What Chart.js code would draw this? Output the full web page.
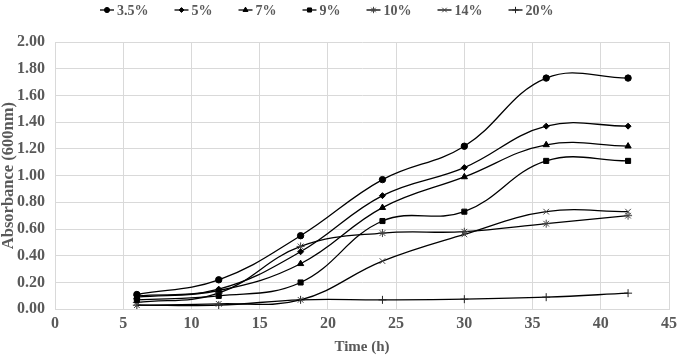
<!DOCTYPE html>
<html>
<head>
<meta charset="utf-8">
<script src="https://cdn.jsdelivr.net/npm/chart.js@4"></script>
<style>
html,body{margin:0;padding:0;background:#fff;}
#wrap{width:685px;height:356px;position:relative;}
</style>
</head>
<body>
<div id="wrap"><canvas id="c" width="685" height="356"></canvas></div>
<script>
// Data
const timeH = [6, 12, 18, 24, 30, 36, 42];
const seriesNames = ['3.5%', '5%', '7%', '9%', '10%', '14%', '20%'];
const s3_5 = [0.11, 0.22, 0.55, 0.97, 1.22, 1.73, 1.73];
const s5   = [0.10, 0.15, 0.43, 0.85, 1.06, 1.37, 1.37];
const s7   = [0.09, 0.14, 0.34, 0.76, 0.99, 1.23, 1.22];
const s9   = [0.07, 0.10, 0.20, 0.66, 0.73, 1.11, 1.11];
const s10  = [0.05, 0.12, 0.47, 0.57, 0.58, 0.64, 0.70];
const s14  = [0.03, 0.04, 0.07, 0.36, 0.56, 0.73, 0.73];
const s20  = [0.03, 0.03, 0.07, 0.07, 0.075, 0.09, 0.12];
const xTicks = [0, 5, 10, 15, 20, 25, 30, 35, 40, 45];
const yTicks = [0, 0.2, 0.4, 0.6, 0.8, 1.0, 1.2, 1.4, 1.6, 1.8, 2.0];

const allSeries = [s3_5, s5, s7, s9, s10, s14, s20];
const styles = ['circle', 'rectRot', 'triangle', 'rect', 'star', 'crossRot', 'cross'];
const radii = [3.2, 3, 3.6, 3.6, 4, 4, 4];
const mColors = ['#000', '#000', '#000', '#000', '#444', '#444', '#222'];

const FONT = "'Liberation Serif', 'Times New Roman', serif";
const TXT = '#595959';

function marker(ctx, style, r, x, y, color) {
  if (Chart.helpers && Chart.helpers.drawPoint) {
    ctx.fillStyle = color; ctx.strokeStyle = color; ctx.lineWidth = 1;
    Chart.helpers.drawPoint(ctx, {pointStyle: style, radius: r, borderWidth: 1, rotation: 0}, x, y);
  }
}

const datasets = allSeries.map((arr, i) => ({
  label: seriesNames[i],
  data: timeH.map((t, k) => ({x: t, y: arr[k]})),
  borderColor: '#000',
  backgroundColor: mColors[i],
  pointBackgroundColor: mColors[i],
  pointBorderColor: mColors[i],
  pointStyle: styles[i],
  pointRadius: radii[i],
  pointBorderWidth: 1,
  borderWidth: 1.3,
  tension: 0.4,
  fill: false
}));

// Legend drawn in a row across the top
const topLegend = {
  id: 'topLegend',
  afterDraw(chart, args, opts) {
    const ctx = chart.ctx;
    ctx.save();
    ctx.font = 'bold 14px ' + FONT;
    ctx.textBaseline = 'middle';
    let x = opts.startX;
    const y = opts.y;
    chart.data.datasets.forEach((d, i) => {
      ctx.strokeStyle = '#000';
      ctx.lineWidth = 1.3;
      ctx.beginPath(); ctx.moveTo(x, y); ctx.lineTo(x + opts.iconW, y); ctx.stroke();
      marker(ctx, styles[i], radii[i] * 0.8, x + opts.iconW / 2, y, mColors[i]);
      const tx = x + opts.iconW + opts.textGap;
      ctx.fillStyle = TXT;
      ctx.textAlign = 'left';
      ctx.fillText(d.label, tx, y + 1);
      x = tx + ctx.measureText(d.label).width + opts.itemGap;
    });
    ctx.restore();
  }
};

const chart = new Chart(document.getElementById('c'), {
  type: 'line',
  data: {datasets},
  plugins: [topLegend],
  options: {
    responsive: false,
    animation: false,
    layout: {padding: {left: 0, right: 2, top: 42, bottom: 0}},
    plugins: {
      tooltip: {enabled: false},
      legend: {display: false},
      topLegend: {startX: 100, y: 10, iconW: 14, textGap: 3, itemGap: 26}
    },
    scales: {
      x: {
        type: 'linear',
        min: 0, max: 45,
        afterBuildTicks(ax) { ax.ticks = xTicks.map(v => ({value: v})); },
        grid: {color: '#d9d9d9', lineWidth: 1, drawTicks: false},
        border: {color: '#d9d9d9'},
        ticks: {color: TXT, font: {family: FONT, size: 16, weight: 'bold', lineHeight: 0.8}, padding: 8, maxRotation: 0},
        title: {display: true, text: 'Time (h)', color: TXT, font: {family: FONT, size: 15, weight: 'bold'}, padding: {top: 0, bottom: 0}}
      },
      y: {
        min: 0, max: 2,
        afterBuildTicks(ax) { ax.ticks = yTicks.map(v => ({value: v})); },
        afterFit(ax) { ax.width = 55; },
        grid: {color: '#d9d9d9', lineWidth: 1, drawTicks: false},
        border: {color: '#d9d9d9'},
        ticks: {color: TXT, font: {family: FONT, size: 16, weight: 'bold'}, padding: 10, callback: v => Number(v).toFixed(2)},
        title: {display: true, text: 'Absorbance (600nm)', color: TXT, font: {family: FONT, size: 16.5, weight: 'bold', lineHeight: 1}, padding: {top: 0, bottom: 0}}
      }
    }
  }
});
</script>
</body>
</html>
